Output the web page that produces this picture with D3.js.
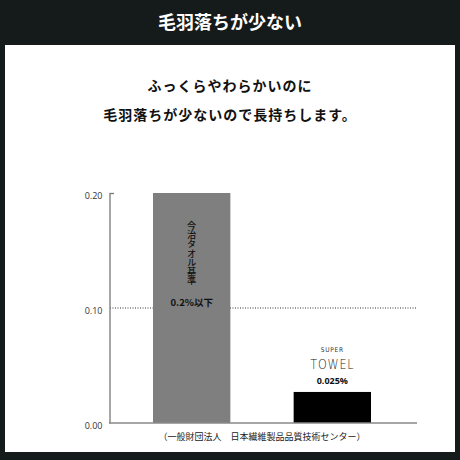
<!DOCTYPE html>
<html><head><meta charset="utf-8">
<script src="https://cdn.jsdelivr.net/npm/d3@7"></script>
<style>
html,body{margin:0;padding:0;background:#151a1a;}
svg{display:block;}
</style></head>
<body>
<svg id="chart" width="460" height="460"></svg>
<script>
// data
const categories = ["今治タオル基準", "SUPER TOWEL"];
const values = [0.20, 0.027];
const valueLabels = ["0.2%以下", "0.025%"];
const barColors = ["#7f7f7f", "#000000"];
const tickValues = [0.00, 0.10, 0.20];
const refLine = 0.10;
const title = "毛羽落ちが少ない";
const subtitle = ["ふっくらやわらかいのに", "毛羽落ちが少ないので長持ちします。"];
const source = "（一般財団法人　日本繊維製品品質技術センター）";

const JP = "'Noto Sans CJK JP','Noto Sans',sans-serif";
const svg = d3.select("#chart");

// frame
svg.append("rect").attr("x",0).attr("y",0).attr("width",460).attr("height",460).attr("fill","#151a1a");
svg.append("rect").attr("x",5).attr("y",45).attr("width",450).attr("height",407).attr("fill","#ffffff");

svg.append("text").attr("x",230).attr("y",23).attr("dy","0.36em")
  .attr("text-anchor","middle").attr("fill","#ffffff")
  .attr("font-family",JP).attr("font-weight",700).attr("font-size",18)
  .text(title);

svg.selectAll("text.sub").data(subtitle).join("text").attr("class","sub")
  .attr("x",230).attr("y",(d,i)=>86+i*29).attr("dy","0.36em")
  .attr("text-anchor","middle").attr("fill","#111")
  .attr("font-family",JP).attr("font-weight",700).attr("font-size",14)
  .attr("letter-spacing",1)
  .text(d=>d);

// scales
const y = d3.scaleLinear().domain([0,0.2]).range([423,193]);
const x = d3.scaleBand().domain(categories).range([108,416]).paddingInner(0.45).paddingOuter(0.32);

// reference dotted line
svg.append("line").attr("x1",110).attr("x2",417).attr("y1",y(refLine)).attr("y2",y(refLine))
  .attr("stroke","#333").attr("stroke-width",1).attr("stroke-dasharray","1,1.5");

// bars
svg.selectAll("rect.bar").data(categories).join("rect").attr("class","bar")
  .attr("x",d=>x(d)).attr("width",x.bandwidth())
  .attr("y",(d,i)=>y(values[i])).attr("height",(d,i)=>y(0)-y(values[i]))
  .attr("fill",(d,i)=>barColors[i]);

// axis
const axis = d3.axisLeft(y).tickValues(tickValues).tickFormat(d3.format(".2f")).tickSize(0).tickSizeOuter(0).tickPadding(7);
const ag = svg.append("g").attr("transform","translate(109.5,0)").call(axis);
ag.select(".domain").attr("stroke","#777").attr("stroke-width",1.3);
ag.selectAll("text").attr("font-family","'Open Sans','Noto Sans',sans-serif").attr("font-size",9)
  .attr("fill","#333").attr("transform","translate(0,3)");
svg.append("line").attr("x1",109.5).attr("x2",114).attr("y1",y(0.2)+0.5).attr("y2",y(0.2)+0.5)
  .attr("stroke","#777").attr("stroke-width",1.3);

// baseline
svg.append("line").attr("x1",109).attr("x2",417).attr("y1",y(0)).attr("y2",y(0))
  .attr("stroke","#888").attr("stroke-width",1.5);

// label inside gray bar (vertical)
const cx0 = x(categories[0]) + x.bandwidth()/2;
svg.append("text").attr("x",cx0).attr("y",221)
  .attr("font-family",JP).attr("font-weight",500).attr("font-size",9.2).attr("fill","#111")
  .style("writing-mode","vertical-rl").style("text-orientation","upright")
  .text(categories[0]);
svg.append("text").attr("x",cx0).attr("y",303).attr("dy","0.36em").attr("text-anchor","middle")
  .attr("font-family",JP).attr("font-weight",700).attr("font-size",9.5).attr("fill","#111")
  .text(valueLabels[0]);

// super towel label
const cx1 = x(categories[1]) + x.bandwidth()/2;
const [w1,w2] = categories[1].split(" ");
svg.append("text").attr("x",cx1).attr("y",350).attr("dy","0.36em").attr("text-anchor","middle")
  .attr("font-family","'DejaVu Sans Condensed','DejaVu Sans',sans-serif").attr("font-size",6.5)
  .attr("letter-spacing",0.8).attr("fill","#333").text(w1);
svg.append("g").attr("transform",`translate(${cx1},364) scale(0.8,1)`)
  .append("text").attr("x",0).attr("y",0).attr("dy","0.36em").attr("text-anchor","middle")
  .attr("font-family","'DejaVu Sans',sans-serif").attr("font-weight",200).attr("font-size",14)
  .attr("letter-spacing",1).attr("fill","#222").text(w2);
svg.append("text").attr("x",cx1).attr("y",381).attr("dy","0.36em").attr("text-anchor","middle")
  .attr("font-family","'Open Sans','Noto Sans',sans-serif").attr("font-weight",700).attr("font-size",9)
  .attr("fill","#111").text(valueLabels[1]);

// source
svg.append("text").attr("x",262).attr("y",437).attr("dy","0.36em").attr("text-anchor","middle")
  .attr("font-family",JP).attr("font-size",9).attr("fill","#222").text(source);
</script>
</body></html>
